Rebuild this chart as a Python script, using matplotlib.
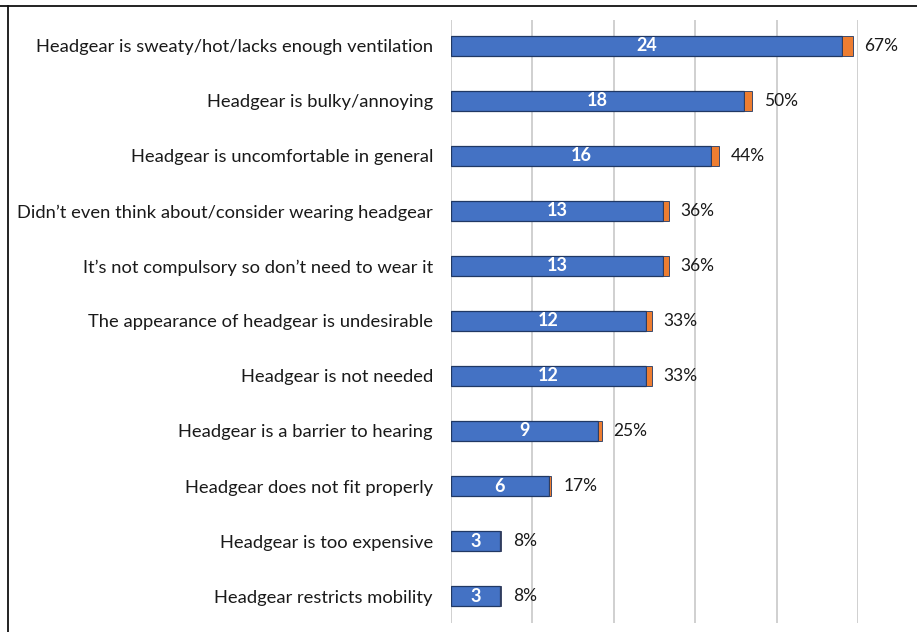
import matplotlib
matplotlib.use("Agg")
import matplotlib.pyplot as plt
from matplotlib.lines import Line2D

plt.rcParams['font.family'] = ['Lato', 'DejaVu Sans']

categories = [
    "Headgear is sweaty/hot/lacks enough ventilation",
    "Headgear is bulky/annoying",
    "Headgear is uncomfortable in general",
    "Didn\u2019t even think about/consider wearing headgear",
    "It\u2019s not compulsory so don\u2019t need to wear it",
    "The appearance of headgear is undesirable",
    "Headgear is not needed",
    "Headgear is a barrier to hearing",
    "Headgear does not fit properly",
    "Headgear is too expensive",
    "Headgear restricts mobility",
]
counts = [24, 18, 16, 13, 13, 12, 12, 9, 6, 3, 3]
percents = [67, 50, 44, 36, 36, 33, 33, 25, 17, 8, 8]
grid_ticks = [0, 5, 10, 15, 20, 25]

W, H = 917, 632
fig = plt.figure(figsize=(W / 100, H / 100), dpi=100)
ax = fig.add_axes([451 / W, 1 - 623 / H, (858 - 451) / W, (623 - 20) / H])

blue = '#4472C4'
orange = '#ED7D31'
edge = '#203864'
ypos = list(range(len(categories)))
frac = [p / 100 for p in percents]

ax.barh(ypos, counts, height=0.36, color=blue, edgecolor=edge, linewidth=0.9, zorder=3)
ax.barh(ypos, frac, left=counts, height=0.36, color=orange, edgecolor=edge, linewidth=0.6, zorder=3)

for y, c, f, p in zip(ypos, counts, frac, percents):
    ax.text(c / 2, y, str(c), ha='center', va='center', color='white',
            fontsize=13, fontweight='bold', zorder=4)
    ax.text(c + f + 0.72, y, f"{p}%", ha='left', va='center', color='#1a1a1a',
            fontsize=12.5, clip_on=False, zorder=4)

ax.set_xlim(0, 25)
ax.set_ylim(len(categories) - 0.51, -0.47)
ax.set_xticks(grid_ticks)
ax.set_xticklabels([])
ax.set_yticks(ypos)
ax.set_yticklabels(categories, fontsize=13.2, color='#1a1a1a')
ax.tick_params(axis='both', length=0, pad=13)
ax.grid(axis='x', color='#c8c8c8', linewidth=1.2, zorder=0)
ax.grid(axis='y', visible=False)
for s in ax.spines.values():
    s.set_visible(False)

# image border (top and left)
fig.add_artist(Line2D([0, 1], [1 - 6 / H, 1 - 6 / H], transform=fig.transFigure,
                      color='#111111', linewidth=1.3))
fig.add_artist(Line2D([8 / W, 8 / W], [0, 1 - 6 / H], transform=fig.transFigure,
                      color='#111111', linewidth=1.3))

fig.savefig('out.png', dpi=100, facecolor='white')
